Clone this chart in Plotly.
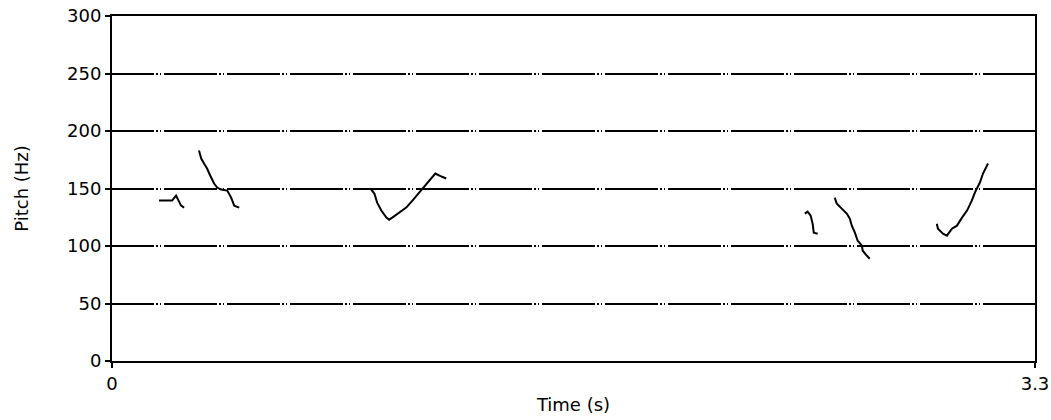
import plotly.graph_objects as go

# Pitch contours (time in s, pitch in Hz), one list pair per voiced stretch
seg1_t = [0.168, 0.215, 0.229, 0.247, 0.258]
seg1_hz = [139.5, 139.5, 143.9, 135.1, 133.4]

seg2_t = [0.311, 0.319, 0.329, 0.340, 0.351, 0.365, 0.376, 0.390, 0.412, 0.426, 0.437, 0.455]
seg2_hz = [183.0, 176.0, 171.7, 167.4, 161.3, 154.3, 150.8, 149.1, 148.2, 142.1, 135.1, 133.4]

seg3_t = [0.927, 0.938, 0.948, 0.963, 0.981, 0.991, 1.002, 1.027, 1.052, 1.074, 1.099,
          1.124, 1.142, 1.156, 1.178, 1.195]
seg3_hz = [149.1, 145.6, 137.7, 130.8, 124.7, 122.9, 124.7, 129.0, 133.4, 139.5, 146.5,
           154.3, 159.5, 163.0, 160.4, 158.7]

seg4_t = [2.477, 2.487, 2.498, 2.505, 2.509, 2.523]
seg4_hz = [128.2, 129.9, 126.4, 119.4, 111.6, 110.7]

seg5_t = [2.584, 2.591, 2.609, 2.627, 2.638, 2.645, 2.656, 2.666, 2.681, 2.684, 2.699, 2.709]
seg5_hz = [142.1, 136.9, 132.5, 128.2, 123.8, 117.7, 111.6, 104.6, 100.3, 95.9, 91.5, 88.9]

seg6_t = [2.949, 2.953, 2.971, 2.985, 3.003, 3.021, 3.039, 3.057, 3.074, 3.085, 3.103,
          3.114, 3.132]
seg6_hz = [119.4, 115.1, 110.7, 109.0, 115.1, 117.7, 124.7, 130.8, 139.5, 146.5, 155.2,
           163.0, 171.7]

segments = [(seg1_t, seg1_hz), (seg2_t, seg2_hz), (seg3_t, seg3_hz),
            (seg4_t, seg4_hz), (seg5_t, seg5_hz), (seg6_t, seg6_hz)]

x_ticks = [0, 3.3]
x_tick_text = ["0", "3.3"]
y_ticks = [0, 50, 100, 150, 200, 250, 300]

# dash-dot-dot grid pattern with a shortened first dash
parts = ["42px"]
for _ in range(16):
    parts += ["2px", "1.5px", "2px", "1.5px", "3px", "53px"]
grid_dash = ",".join(parts)

fig = go.Figure()
for t, hz in segments:
    fig.add_trace(go.Scatter(
        x=t, y=hz, mode="lines",
        line=dict(color="black", width=2),
        showlegend=False, hoverinfo="skip",
    ))

font_family = "DejaVu Sans"

fig.update_layout(
    width=1051, height=420,
    margin=dict(l=112, r=16, t=16, b=59),
    paper_bgcolor="white", plot_bgcolor="white",
    font=dict(family=font_family, color="black", size=16),
    xaxis=dict(
        range=[0, 3.3], tickvals=x_ticks, ticktext=x_tick_text,
        showgrid=False, zeroline=False, automargin=False,
        showline=True, linecolor="black", linewidth=2, mirror=True,
        ticks="outside", ticklen=5, tickwidth=2, tickcolor="black",
        tickfont=dict(size=18),
        title=dict(text="Time (s)", font=dict(size=18), standoff=6),
    ),
    yaxis=dict(
        range=[0, 300], tickvals=y_ticks,
        showgrid=True, gridcolor="black", gridwidth=1.5, griddash=grid_dash,
        zeroline=False, automargin=False,
        showline=True, linecolor="black", linewidth=2, mirror=True,
        ticks="outside", ticklen=5, tickwidth=2, tickcolor="black",
        tickfont=dict(size=18),
        title=dict(text="Pitch (Hz)", font=dict(size=18), standoff=34),
    ),
)

fig.write_html("out.html")
